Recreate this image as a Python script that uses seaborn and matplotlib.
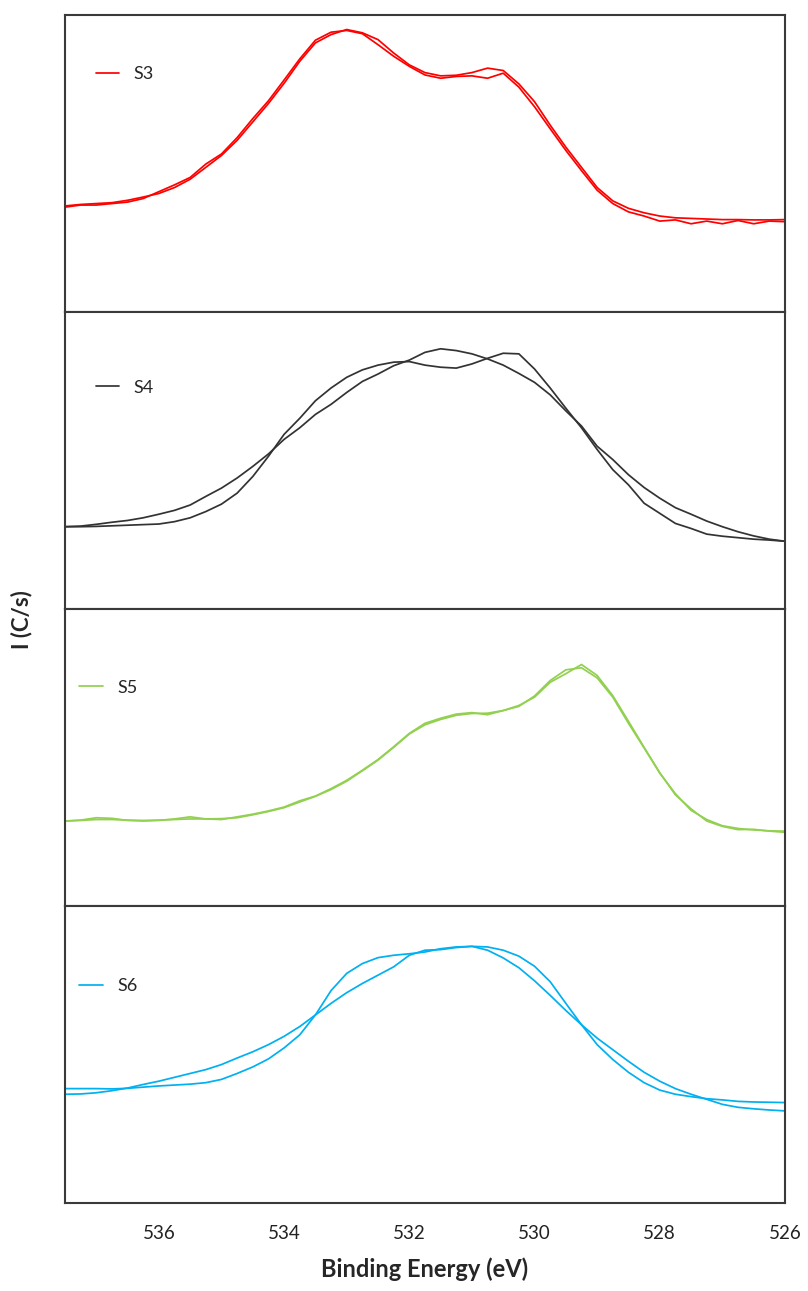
#!/usr/bin/env python3
"""
O 1s XPS spectra for samples S3-S6, stacked panels
"""

import matplotlib
matplotlib.use("Agg")
import matplotlib.pyplot as plt
import seaborn as sns

# binding energy grid (eV), every 0.25 eV
binding_energy = [537.5, 537.25, 537.0, 536.75, 536.5, 536.25, 536.0, 535.75,
                  535.5, 535.25, 535.0, 534.75, 534.5, 534.25, 534.0, 533.75,
                  533.5, 533.25, 533.0, 532.75, 532.5, 532.25, 532.0, 531.75,
                  531.5, 531.25, 531.0, 530.75, 530.5, 530.25, 530.0, 529.75,
                  529.5, 529.25, 529.0, 528.75, 528.5, 528.25, 528.0, 527.75,
                  527.5, 527.25, 527.0, 526.75, 526.5, 526.25, 526.0]

# intensities in arbitrary units (panel height = 100)
s3_data = [35.3, 36.0, 36.0, 36.5, 37.0, 38.2, 40.5, 42.8, 45.3, 49.8, 53.2, 58.7,
           65.1, 71.1, 78.1, 85.2, 91.5, 94.2, 94.8, 93.7, 90.0, 86.1, 82.7, 79.8,
           78.7, 79.3, 79.5, 78.7, 80.4, 75.7, 69.1, 61.7, 54.4, 47.6, 41.0, 36.5,
           33.7, 32.3, 30.6, 31.0, 29.7, 30.6, 29.7, 30.8, 29.7, 30.6, 30.4]
s3_fit = [35.7, 36.2, 36.5, 36.8, 37.6, 38.7, 39.9, 41.9, 44.7, 48.7, 52.7, 57.8,
          64.0, 70.2, 77.0, 84.4, 90.6, 93.4, 95.1, 94.0, 91.7, 87.2, 83.2, 80.6,
          79.5, 79.7, 80.6, 82.1, 81.3, 76.8, 70.8, 62.9, 55.5, 48.7, 41.9, 37.4,
          34.9, 33.4, 32.3, 31.7, 31.5, 31.3, 31.1, 31.1, 31.0, 31.0, 31.1]

s4_data = [27.7, 27.7, 27.8, 28.0, 28.2, 28.4, 28.6, 29.4, 30.7, 32.8, 35.3, 39.0,
           44.6, 51.4, 58.8, 64.2, 70.1, 74.4, 78.0, 80.5, 82.1, 83.1, 83.3, 82.1,
           81.4, 81.1, 82.5, 84.4, 86.1, 85.9, 80.8, 74.4, 67.6, 61.0, 53.7, 46.9,
           41.8, 35.6, 32.2, 28.8, 27.1, 25.2, 24.5, 24.0, 23.5, 23.2, 22.8]
s4_fit = [27.7, 27.9, 28.5, 29.2, 29.8, 30.7, 31.9, 33.2, 35.0, 37.9, 40.7, 44.1,
          48.0, 52.2, 57.1, 61.0, 65.5, 68.9, 72.9, 76.6, 79.1, 81.9, 83.8, 86.4,
          87.6, 87.0, 85.9, 84.2, 82.1, 79.3, 76.3, 72.1, 66.7, 61.6, 54.8, 50.3,
          45.2, 40.9, 37.3, 34.1, 31.9, 29.6, 27.7, 26.0, 24.6, 23.5, 22.8]

s5_data = [28.6, 28.9, 29.7, 29.5, 28.8, 28.6, 28.8, 29.3, 30.0, 29.3, 29.1, 30.0,
           30.9, 32.0, 33.3, 35.4, 37.0, 39.5, 42.3, 45.7, 49.3, 53.6, 58.1, 61.5,
           63.2, 64.6, 65.1, 64.4, 65.8, 67.5, 70.3, 75.3, 78.2, 81.3, 77.6, 70.8,
           62.2, 53.4, 44.9, 37.4, 32.7, 28.6, 26.8, 25.7, 25.8, 25.2, 24.8]
s5_fit = [28.6, 28.8, 29.1, 29.1, 28.9, 28.8, 28.9, 29.1, 29.3, 29.3, 29.4, 29.7,
          30.7, 31.8, 33.1, 35.0, 36.9, 39.2, 42.0, 45.5, 49.1, 53.4, 57.9, 61.0,
          62.8, 64.2, 64.8, 64.9, 65.8, 67.2, 70.7, 75.9, 79.5, 80.2, 76.8, 70.3,
          61.5, 53.2, 44.7, 37.8, 32.2, 29.1, 27.0, 26.1, 25.6, 25.3, 25.2]

s6_data = [38.5, 38.5, 38.5, 38.4, 38.6, 39.0, 39.4, 39.7, 40.0, 40.5, 41.6, 43.6,
           45.8, 48.5, 52.2, 56.6, 63.3, 71.5, 77.3, 80.6, 82.6, 83.4, 83.9, 84.5,
           85.6, 86.2, 86.4, 86.2, 85.1, 83.1, 79.7, 74.5, 67.2, 60.0, 53.3, 48.3,
           44.0, 40.5, 38.0, 36.6, 35.8, 35.1, 34.7, 34.2, 34.0, 33.9, 33.8]
s6_fit = [36.6, 36.7, 37.1, 37.8, 38.7, 39.9, 41.0, 42.3, 43.6, 44.9, 46.6, 48.8,
          50.9, 53.3, 56.1, 59.4, 63.3, 67.2, 70.8, 73.9, 76.7, 79.5, 83.4, 85.1,
          85.3, 86.0, 86.4, 85.1, 82.5, 79.2, 74.8, 69.9, 64.8, 60.0, 55.5, 51.6,
          47.7, 44.0, 41.0, 38.5, 36.6, 34.9, 33.2, 32.2, 31.7, 31.3, 31.0]

samples = ["S3", "S4", "S5", "S6"]
x_ticks = [536, 534, 532, 530, 528, 526]

sns.set_theme(style="white")
plt.rcParams["font.family"] = ["Lato", "DejaVu Sans"]

colors = ["#FF0000", "#333333", "#92D050", "#00B0F0"]
curves = [(s3_data, s3_fit), (s4_data, s4_fit), (s5_data, s5_fit), (s6_data, s6_fit)]
legend_anchor = [(0.043, 0.80), (0.043, 0.745), (0.020, 0.735), (0.020, 0.73)]

fig, axes = plt.subplots(4, 1, figsize=(8.08, 12.91), dpi=100, sharex=True)
fig.subplots_adjust(left=0.0804, right=0.9715, top=0.9884, bottom=0.0682, hspace=0)

for ax, name, color, (data, fit), anchor in zip(axes, samples, colors, curves, legend_anchor):
    sns.lineplot(x=binding_energy, y=data, ax=ax, color=color, lw=1.25, label=name)
    sns.lineplot(x=binding_energy, y=fit, ax=ax, color=color, lw=1.25)
    ax.set_xlim(537.5, 526)
    ax.set_ylim(0, 100)
    ax.set_yticks([])
    ax.set_ylabel("")
    for spine in ax.spines.values():
        spine.set_color("#3a3a3a")
        spine.set_linewidth(1.5)
    handles = ax.get_lines()[:1]
    ax.legend(handles=handles, labels=[name], loc="center left", bbox_to_anchor=anchor,
              frameon=False, fontsize=13, handlelength=1.3, handletextpad=0.8,
              borderpad=0, borderaxespad=0)

axes[-1].set_xticks(x_ticks)
axes[-1].tick_params(axis="x", length=0, pad=16, labelsize=13.5, labelcolor="#222222")
axes[-1].set_xlabel("Binding Energy (eV)", fontsize=17, fontweight="bold", labelpad=11)
fig.text(0.027, 0.52, "I (C/s)", rotation=90, fontsize=16, fontweight="bold",
         ha="center", va="center")

plt.savefig("out.png", dpi=100)
plt.close()
